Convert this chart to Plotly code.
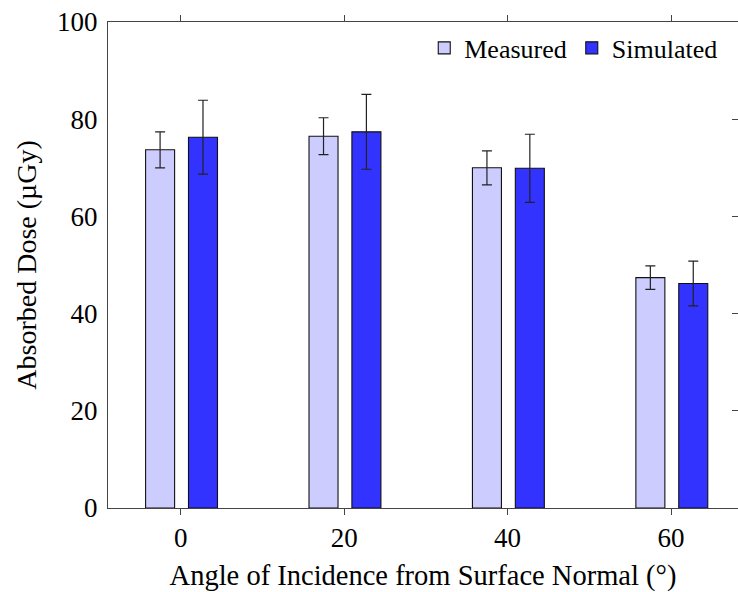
import plotly.graph_objects as go

angles = [0, 20, 40, 60]
measured = [73.7, 76.5, 70.0, 47.4]
measured_err = [3.7, 3.8, 3.5, 2.4]
simulated = [76.3, 77.4, 69.9, 46.2]
simulated_err = [7.6, 7.7, 7.0, 4.6]

FONT = "Times New Roman, Liberation Serif, Tinos, DejaVu Serif, serif"
fig = go.Figure()
fig.add_trace(go.Bar(
    x=angles, y=measured, name="Measured", width=3.55, offset=-4.3,
    marker=dict(color="#ccccff", line=dict(color="#111", width=1.1)),
    error_y=dict(type="data", array=measured_err, color="#222", thickness=1.2, width=5),
))
fig.add_trace(go.Bar(
    x=angles, y=simulated, name="Simulated", width=3.55, offset=0.95,
    marker=dict(color="#3333ff", line=dict(color="#111", width=1.1)),
    error_y=dict(type="data", array=simulated_err, color="#222", thickness=1.2, width=5),
))
fig.add_trace(go.Scatter(x=[0], y=[0], yaxis="y2", showlegend=False, mode="markers",
                         marker=dict(opacity=0), hoverinfo="skip"))

fig.update_layout(
    width=738, height=592, margin=dict(l=108, r=0, t=22, b=84),
    plot_bgcolor="white", paper_bgcolor="white",
    font=dict(family=FONT, size=27, color="black"),
    barmode="overlay", showlegend=True,
    legend=dict(x=0.975, xanchor="right", y=0.995, yanchor="top", orientation="h",
                bgcolor="rgba(0,0,0,0)", font=dict(family=FONT, size=26), itemwidth=30, tracegroupgap=0),
    xaxis=dict(range=[-8.9, 68.2], tickvals=angles, ticks="outside", ticklen=6,
               tickcolor="#444", showline=True, linecolor="#444", linewidth=1,
               mirror="ticks", showgrid=False, zeroline=False, tickfont=dict(family=FONT, size=27),
               title=dict(text="Angle of Incidence from Surface Normal (°)", standoff=12,
                          font=dict(family=FONT, size=28.5))),
    yaxis=dict(range=[0, 100], tickvals=[0, 20, 40, 60, 80, 100], ticks="",
               showline=True, linecolor="#444", linewidth=1, mirror=True, ticklabelstandoff=4,
               showgrid=False, zeroline=False, tickfont=dict(family=FONT, size=27),
               title=dict(text="Absorbed Dose (µGy)", standoff=12, font=dict(family=FONT, size=28))),
    yaxis2=dict(range=[0, 100], overlaying="y", side="right", tickvals=[0, 20, 40, 60, 80, 100],
                ticks="inside", ticklen=6, tickcolor="#444", showticklabels=False,
                showgrid=False, zeroline=False, showline=False),
)
fig.write_html("out.html")
